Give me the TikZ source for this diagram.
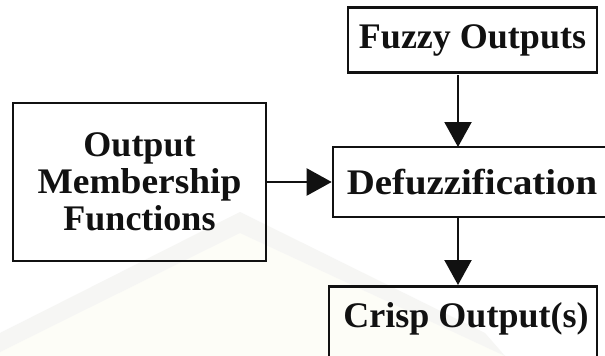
\documentclass[tikz,border=0pt]{standalone}
\usepackage{fontspec}
\setmainfont{Liberation Serif}
\usetikzlibrary{arrows.meta}
\definecolor{inkline}{HTML}{111111}
\definecolor{markgray}{HTML}{F6F6F4}
\definecolor{markcream}{HTML}{FDFDF7}
\tikzset{
  block/.style={draw=inkline, line width=2.6pt, fill=none, inner sep=0pt,
    font=\bfseries\fontsize{36}{37}\selectfont, align=center, text=inkline},
  flow/.style={draw=inkline, line width=2.2pt,
    -{Triangle[length=25pt, width=27pt]}},
}
\begin{document}
\begin{tikzpicture}[x=1pt, y=-1pt]
  \useasboundingbox (0,0) rectangle (605,356);
  \clip (0,0) rectangle (605,356);
  \fill[white] (0,0) rectangle (605,356);
  % faint background emblem
  \fill[markcream] (0,356) -- (0,352) -- (240,233) -- (505,356) -- cycle;
  \fill[markgray] (0,333) -- (240,212) -- (485,333) -- (505,356) -- (240,233) -- (0,352) -- cycle;
  % blocks
  \node[block, minimum width=249pt, minimum height=65pt] (fuzzy) at (472.5,40) {Fuzzy Outputs};
  \node[block, minimum width=253pt, minimum height=158pt] (omf) at (139.5,182) {Output\\\scalebox{1.04}[1]{Membership}\\Functions};
  \node[block, minimum width=278pt, minimum height=70pt] (defuzz) at (472,182) {\scalebox{1.08}[1]{Defuzzification}};
  \node[block, minimum width=268pt, minimum height=110pt, anchor=north] (crisp) at (463,285) {};
  \node[block, draw=none] (crisplabel) at (466,319) {Crisp Output(s)};
  % connectors
  \coordinate (fuzzyfoot) at (458,75);
  \coordinate (defuzzhead) at (458,147);
  \coordinate (defuzzfoot) at (458,217);
  \coordinate (crisphead) at (458,285);
  \draw[flow] (fuzzyfoot) -- (defuzzhead);
  \draw[flow] (omf.east) -- (defuzz.west);
  \draw[flow] (defuzzfoot) -- (crisphead);
\end{tikzpicture}
\end{document}
